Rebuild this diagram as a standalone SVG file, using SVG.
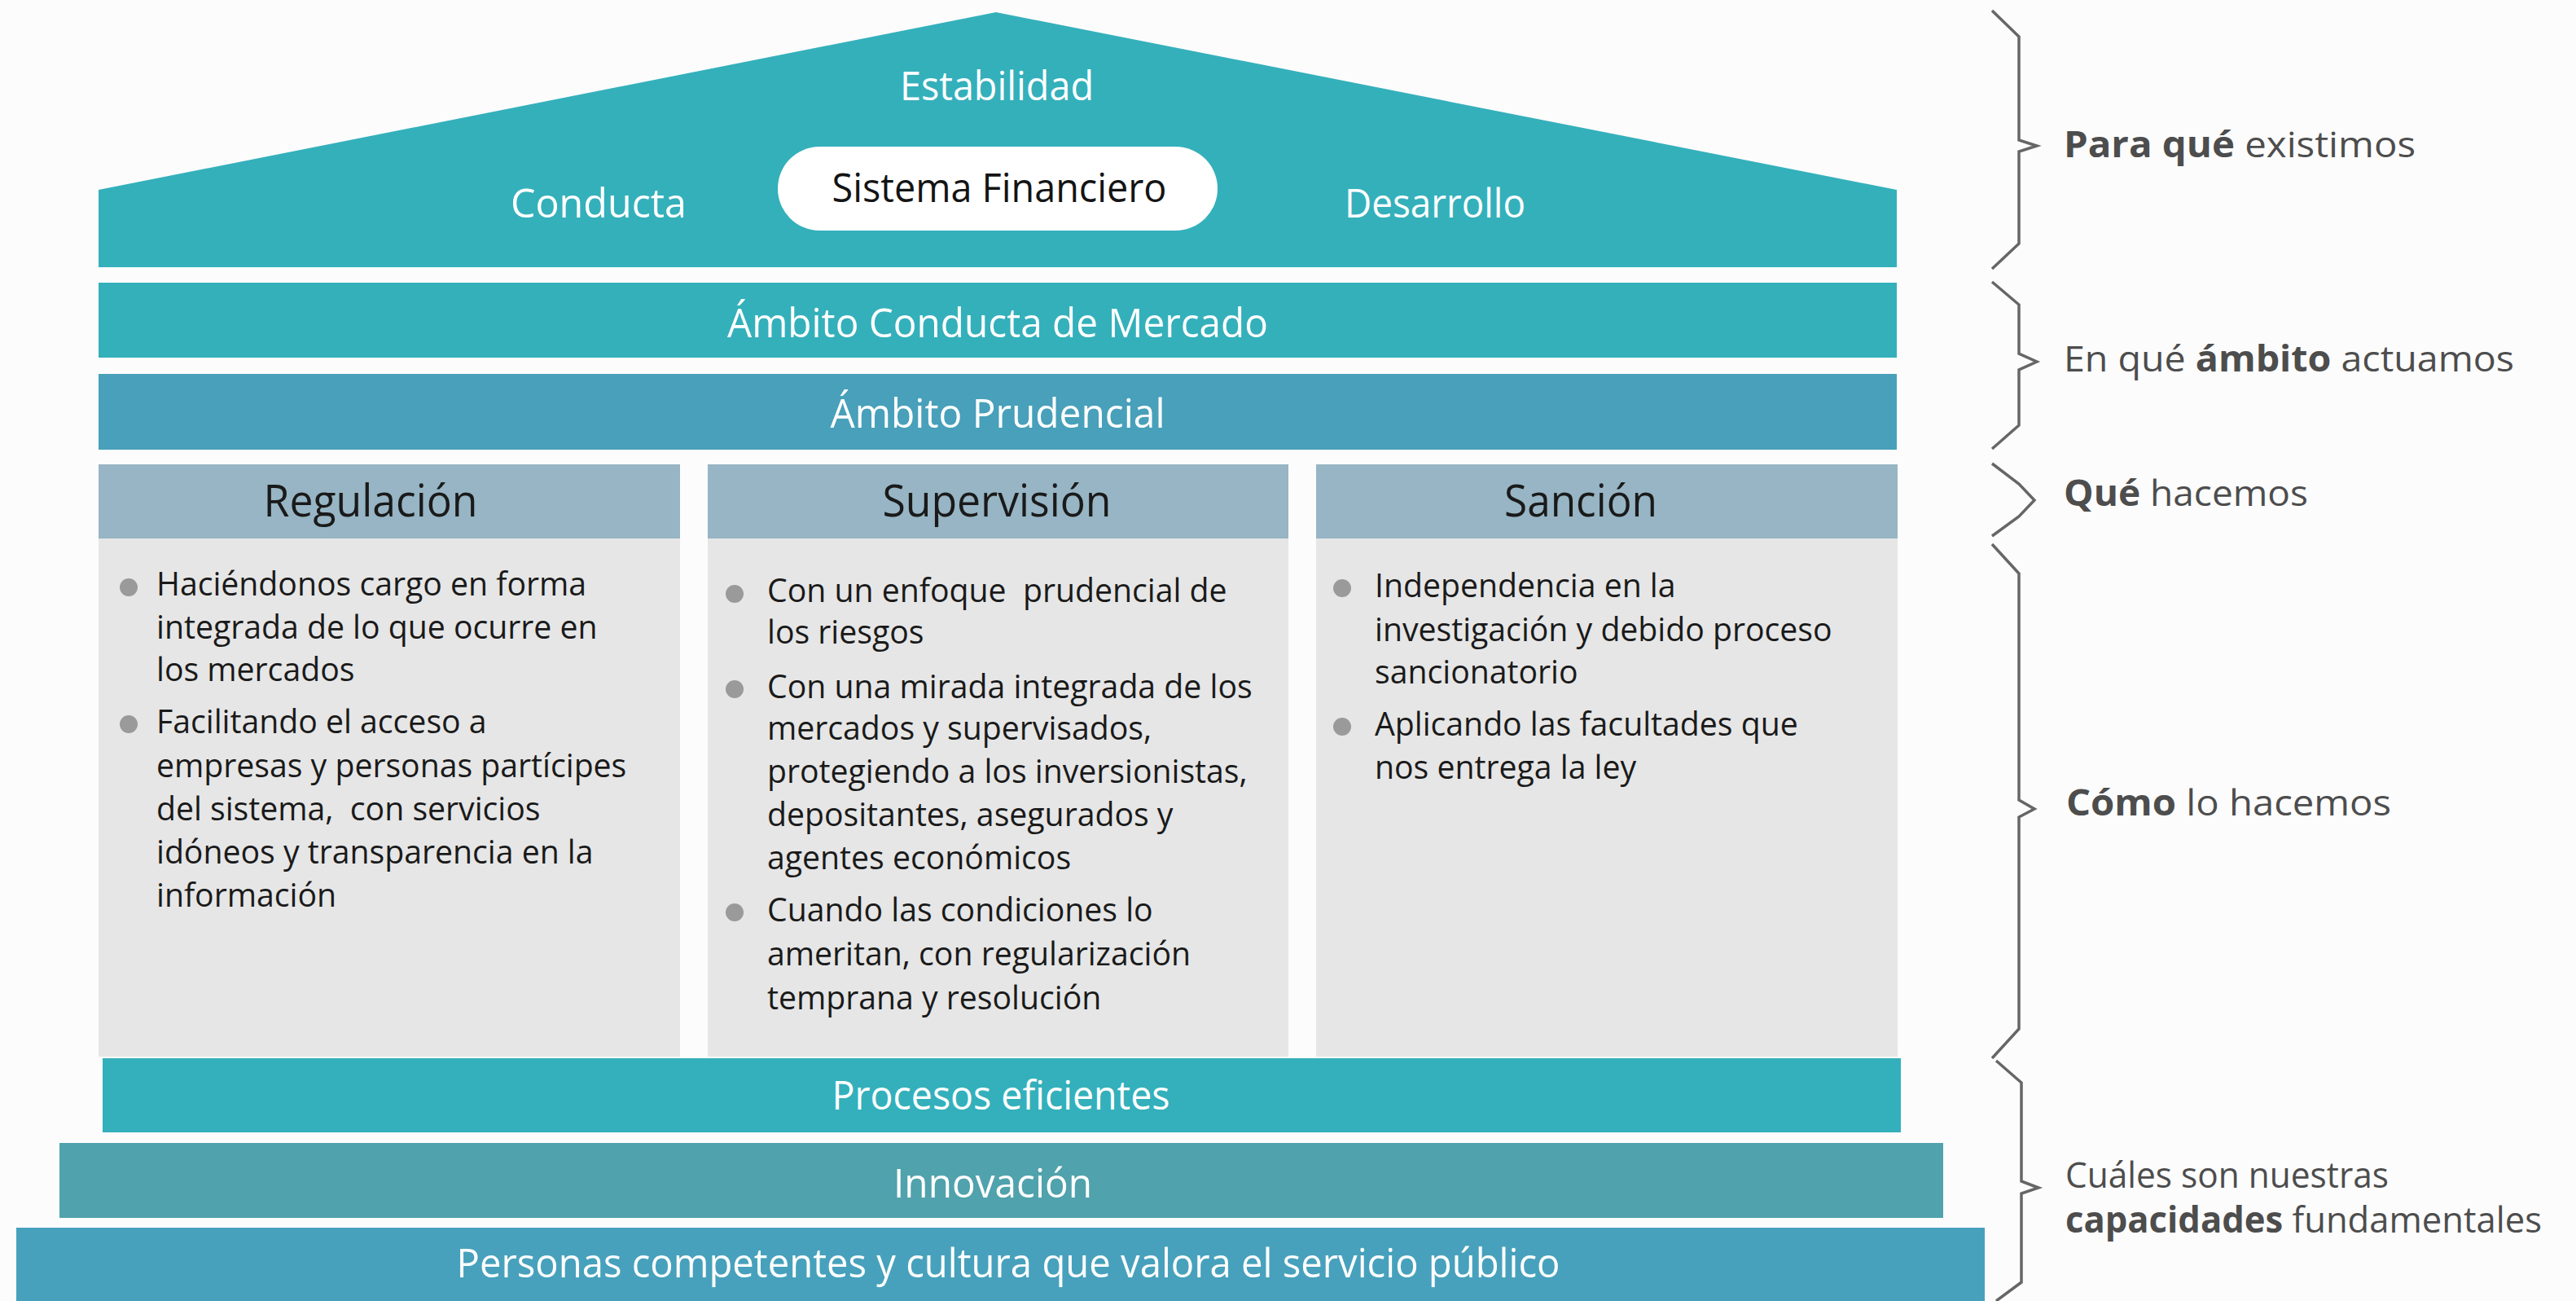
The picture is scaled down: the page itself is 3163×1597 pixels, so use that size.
<svg xmlns="http://www.w3.org/2000/svg" width="3163" height="1597" viewBox="0 0 3163 1597">
<style>
  text { font-family: "Open Sans", "Noto Sans", "Liberation Sans", sans-serif; }
  .lbl { fill: #ffffff; font-size: 49px; text-anchor: middle; }
  .dark { fill: #141414; }
  .head { fill: #1a1a1a; font-size: 54px; text-anchor: middle; }
  .body { fill: #1a1a1a; font-size: 40px; }
  .side { fill: #4d4d4d; font-size: 44px; }
  .b { font-weight: bold; }
  .bul { fill: #9a9a9a; }
  .colh { fill: #97b5c4; }
  .colb { fill: #e6e6e6; }
  .brace { fill: none; stroke: #666666; stroke-width: 3.5; stroke-linejoin: miter; }
</style>
<rect x="0" y="0" width="3163" height="1597" fill="#fcfcfc"/>

<g id="techo">
  <polygon points="121,233 1223,15 2329,233 2329,328 121,328" fill="#34b0bb"/>
  <text class="lbl" x="1224" y="123" textLength="238" lengthAdjust="spacingAndGlyphs">Estabilidad</text>
  <text class="lbl" x="735" y="267" textLength="216" lengthAdjust="spacingAndGlyphs">Conducta</text>
  <text class="lbl" x="1762" y="267" textLength="222" lengthAdjust="spacingAndGlyphs">Desarrollo</text>
</g>
<g id="sistema-financiero">
  <rect x="955" y="180" width="540" height="103" rx="51.5" fill="#ffffff"/>
  <text class="lbl dark" x="1227" y="248" textLength="411" lengthAdjust="spacingAndGlyphs">Sistema Financiero</text>
</g>

<g id="ambito-conducta">
  <rect x="121" y="347" width="2208" height="92" fill="#34b0bb"/>
  <text class="lbl" x="1225" y="414" textLength="664" lengthAdjust="spacingAndGlyphs">Ámbito Conducta de Mercado</text>
</g>
<g id="ambito-prudencial">
  <rect x="121" y="459" width="2208" height="93" fill="#48a0ba"/>
  <text class="lbl" x="1225" y="525" textLength="411" lengthAdjust="spacingAndGlyphs">Ámbito Prudencial</text>
</g>

<g id="regulacion">
  <rect class="colh" x="121" y="570" width="714" height="91"/>
  <rect class="colb" x="121" y="661" width="714" height="636"/>
  <text class="head" x="455" y="634" textLength="263" lengthAdjust="spacingAndGlyphs">Regulación</text>
  <circle class="bul" cx="158" cy="721" r="11"/>
  <circle class="bul" cx="158" cy="889" r="11"/>
  <g transform="translate(192,0) scale(0.98,1) translate(-192,0)">
    <text class="body" x="192" y="731">Haciéndonos cargo en forma</text>
    <text class="body" x="192" y="784">integrada de lo que ocurre en</text>
    <text class="body" x="192" y="836">los mercados</text>
    <text class="body" x="192" y="900">Facilitando el acceso a</text>
    <text class="body" x="192" y="954">empresas y personas partícipes</text>
    <text class="body" x="192" y="1007">del sistema,&#160; con servicios</text>
    <text class="body" x="192" y="1060">idóneos y transparencia en la</text>
    <text class="body" x="192" y="1113">información</text>
  </g>
</g>

<g id="supervision">
  <rect class="colh" x="869" y="570" width="713" height="91"/>
  <rect class="colb" x="869" y="661" width="713" height="636"/>
  <text class="head" x="1224" y="634" textLength="281" lengthAdjust="spacingAndGlyphs">Supervisión</text>
  <circle class="bul" cx="902" cy="729" r="11"/>
  <circle class="bul" cx="902" cy="846" r="11"/>
  <circle class="bul" cx="902" cy="1120" r="11"/>
  <g transform="translate(942,0) scale(0.98,1) translate(-942,0)">
    <text class="body" x="942" y="739">Con un enfoque&#160; prudencial de</text>
    <text class="body" x="942" y="790">los riesgos</text>
    <text class="body" x="942" y="857">Con una mirada integrada de los</text>
    <text class="body" x="942" y="908">mercados y supervisados,</text>
    <text class="body" x="942" y="961">protegiendo a los inversionistas,</text>
    <text class="body" x="942" y="1014">depositantes, asegurados y</text>
    <text class="body" x="942" y="1067">agentes económicos</text>
    <text class="body" x="942" y="1131">Cuando las condiciones lo</text>
    <text class="body" x="942" y="1185">ameritan, con regularización</text>
    <text class="body" x="942" y="1239">temprana y resolución</text>
  </g>
</g>

<g id="sancion">
  <rect class="colh" x="1616" y="570" width="714" height="91"/>
  <rect class="colb" x="1616" y="661" width="714" height="636"/>
  <text class="head" x="1941" y="634" textLength="188" lengthAdjust="spacingAndGlyphs">Sanción</text>
  <circle class="bul" cx="1648" cy="722" r="11"/>
  <circle class="bul" cx="1648" cy="892" r="11"/>
  <g transform="translate(1688,0) scale(0.98,1) translate(-1688,0)">
    <text class="body" x="1688" y="733">Independencia en la</text>
    <text class="body" x="1688" y="787">investigación y debido proceso</text>
    <text class="body" x="1688" y="839">sancionatorio</text>
    <text class="body" x="1688" y="903">Aplicando las facultades que</text>
    <text class="body" x="1688" y="956">nos entrega la ley</text>
  </g>
</g>

<g id="procesos">
  <rect x="126" y="1299" width="2208" height="91" fill="#33b0bb"/>
  <text class="lbl" x="1229" y="1362" textLength="415" lengthAdjust="spacingAndGlyphs">Procesos eficientes</text>
</g>
<g id="innovacion">
  <rect x="73" y="1403" width="2313" height="92" fill="#50a2ac"/>
  <text class="lbl" x="1219" y="1470" textLength="244" lengthAdjust="spacingAndGlyphs">Innovación</text>
</g>
<g id="personas">
  <rect x="20" y="1507" width="2417" height="95" fill="#47a1bc"/>
  <text class="lbl" x="1238" y="1568" textLength="1355" lengthAdjust="spacingAndGlyphs">Personas competentes y cultura que valora el servicio público</text>
</g>

<g id="connectors">
  <path class="brace" d="M2446,13 L2479,45 L2479,172 L2501,179 L2479,186 L2479,299 L2446,330"/>
  <path class="brace" d="M2446,346 L2479,374 L2479,434 L2501,444 L2479,454 L2479,522 L2446,551"/>
  <path class="brace" d="M2446,569 L2479,594 L2498,614 L2479,634 L2446,658"/>
  <path class="brace" d="M2446,668 L2479,704 L2479,982 L2498,993 L2479,1003 L2479,1263 L2446,1299"/>
  <path class="brace" d="M2451,1302 L2482,1329 L2482,1450 L2503,1458 L2482,1465 L2482,1574 L2451,1597"/>
</g>

<g id="etiquetas">
  <text class="side" x="2534" y="193" textLength="432" lengthAdjust="spacingAndGlyphs"><tspan class="b">Para qué</tspan> existimos</text>
  <text class="side" x="2534" y="456" textLength="553" lengthAdjust="spacingAndGlyphs">En qué <tspan class="b">ámbito</tspan> actuamos</text>
  <text class="side" x="2534" y="621" textLength="300" lengthAdjust="spacingAndGlyphs"><tspan class="b">Qué</tspan> hacemos</text>
  <text class="side" x="2537" y="1001" textLength="399" lengthAdjust="spacingAndGlyphs"><tspan class="b">Cómo</tspan> lo hacemos</text>
  <text class="side" x="2536" y="1458" font-size="41" textLength="397" lengthAdjust="spacingAndGlyphs">Cuáles son nuestras</text>
  <text class="side" x="2536" y="1513" font-size="41" textLength="585" lengthAdjust="spacingAndGlyphs"><tspan class="b">capacidades</tspan> fundamentales</text>
</g>
</svg>
